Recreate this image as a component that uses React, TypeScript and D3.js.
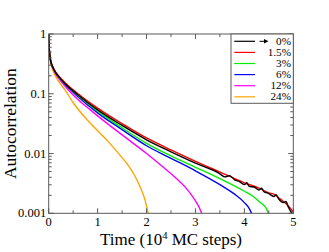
import React from "react";
import * as d3 from "d3";

// time in units of 10^4 MC steps
const blackT = [0, 0.005, 0.01, 0.02, 0.04, 0.08, 0.13, 0.2, 0.33, 0.6, 1.0, 1.5, 2.0, 2.5, 3.0, 3.5, 3.6, 3.7, 3.8, 3.9, 4.0, 4.05, 4.1, 4.2, 4.3, 4.35, 4.4, 4.5, 4.6, 4.65, 4.7, 4.8, 4.85, 4.9, 4.95, 5.0];
const blackV = [1, 0.759, 0.603, 0.457, 0.355, 0.282, 0.234, 0.195, 0.148, 0.0955, 0.0537, 0.0295, 0.017, 0.0107, 0.00692, 0.00457, 0.00407, 0.00427, 0.00363, 0.00339, 0.00302, 0.00324, 0.00282, 0.00275, 0.00245, 0.00263, 0.00229, 0.00214, 0.00191, 0.00204, 0.00174, 0.00151, 0.00158, 0.00126, 0.00107, 0.00095];

const redT = [0, 0.005, 0.01, 0.02, 0.04, 0.08, 0.13, 0.2, 0.33, 0.6, 1.0, 1.5, 2.0, 2.5, 3.0, 3.5, 4.0, 4.3, 4.5, 4.6, 4.7, 4.8, 4.9, 5.0];
const redV = [1, 0.759, 0.603, 0.468, 0.363, 0.288, 0.24, 0.2, 0.155, 0.1, 0.0575, 0.0316, 0.0182, 0.0115, 0.00741, 0.0049, 0.00324, 0.00263, 0.00219, 0.00209, 0.00182, 0.00158, 0.00132, 0.00105];

const greenT = [0, 0.005, 0.01, 0.02, 0.04, 0.08, 0.13, 0.2, 0.33, 0.6, 1.0, 1.5, 2.0, 2.5, 3.0, 3.5, 4.0, 4.2, 4.3, 4.4, 4.45, 4.5];
const greenV = [1, 0.759, 0.603, 0.457, 0.355, 0.282, 0.234, 0.195, 0.148, 0.0933, 0.0513, 0.0269, 0.0148, 0.00912, 0.00589, 0.0038, 0.00234, 0.00186, 0.00158, 0.00135, 0.0012, 0.00095];

const blueT = [0, 0.005, 0.01, 0.02, 0.04, 0.08, 0.13, 0.2, 0.33, 0.6, 1.0, 1.5, 2.0, 2.5, 3.0, 3.5, 3.8, 4.0, 4.1, 4.16];
const blueV = [1, 0.759, 0.603, 0.457, 0.355, 0.282, 0.234, 0.195, 0.145, 0.0891, 0.0479, 0.0251, 0.0135, 0.00832, 0.00513, 0.00302, 0.00209, 0.00151, 0.0012, 0.00095];

const magentaT = [0, 0.005, 0.01, 0.02, 0.04, 0.08, 0.13, 0.2, 0.33, 0.5, 0.85, 1.2, 1.65, 2.0, 2.3, 2.6, 2.8, 2.95, 3.05, 3.14];
const magentaV = [1, 0.759, 0.603, 0.457, 0.355, 0.275, 0.224, 0.182, 0.135, 0.0955, 0.0537, 0.0316, 0.0166, 0.01, 0.00631, 0.00389, 0.00269, 0.00186, 0.00138, 0.00095];

const orangeT = [0, 0.005, 0.01, 0.02, 0.04, 0.08, 0.13, 0.2, 0.33, 0.5, 0.78, 1.05, 1.25, 1.46, 1.6, 1.75, 1.87, 1.97, 2.0, 2.04];
const orangeV = [1, 0.741, 0.589, 0.437, 0.331, 0.251, 0.204, 0.162, 0.117, 0.0708, 0.0372, 0.0219, 0.0148, 0.00933, 0.00676, 0.00437, 0.00275, 0.00166, 0.00132, 0.00095];

const seriesLabels = ["0%", "1.5%", "3%", "6%", "12%", "24%"];
const seriesColors = ["#000000", "#ff0000", "#00ee00", "#0000ff", "#ff00ff", "#ffa500"];
const seriesT = [blackT, redT, greenT, blueT, magentaT, orangeT];
const seriesV = [blackV, redV, greenV, blueV, magentaV, orangeV];

const xTicks = [0, 1, 2, 3, 4, 5];
const xMinor = [0.5, 1.5, 2.5, 3.5, 4.5];
const yTicks = [0.001, 0.01, 0.1, 1];
const yTickLabels = ["0.001", "0.01", "0.1", "1"];

const W = 329;
const H = 252;
const left = 48.7, right = 293.3, top = 34, bottom = 213.3;
const axisColor = "#5a5a5a";
const font = "'Liberation Serif', 'Times New Roman', Times, serif";

export default function App() {
  const x = d3.scaleLinear().domain([0, 5]).range([left, right]);
  const y = d3.scaleLog().domain([0.001, 1]).range([bottom, top]);

  const line = d3
    .line<[number, number]>()
    .x((d) => x(d[0]))
    .y((d) => y(d[1]))
    .curve(d3.curveMonotoneX);

  // minor log ticks 2..9 in each decade
  const yMinor: number[] = [];
  for (let e = -3; e < 0; e++) {
    for (let m = 2; m <= 9; m++) yMinor.push(m * Math.pow(10, e));
  }

  const legendLeft = 231;
  const rowY = (i: number) => 41.3 + i * 11.1;

  return (
    <svg
      width={W}
      height={H}
      style={{ position: "absolute", left: 0, top: 0, background: "#fff", fontFamily: font }}
    >
      <defs>
        <clipPath id="plotclip">
          <rect x={left} y={top - 1} width={right - left} height={bottom - top + 1} />
        </clipPath>
      </defs>

      {/* curves, last series first so black ends up on top */}
      <g clipPath="url(#plotclip)" fill="none">
        {seriesT
          .map((ts, i) => ({ i, pts: ts.map((t, k) => [t, seriesV[i][k]] as [number, number]) }))
          .reverse()
          .map(({ i, pts }) => (
            <path key={i} d={line(pts) || ""} stroke={seriesColors[i]} strokeWidth={1.4} />
          ))}
      </g>

      {/* frame */}
      <rect x={left} y={top} width={right - left} height={bottom - top} fill="none" stroke={axisColor} strokeWidth={1} />

      {/* ticks on all four sides, pointing inward */}
      <g stroke={axisColor} strokeWidth={1}>
        {xTicks.map((t) => (
          <g key={"xt" + t}>
            <line x1={x(t)} x2={x(t)} y1={bottom} y2={bottom - 5} />
            <line x1={x(t)} x2={x(t)} y1={top} y2={top + 5} />
          </g>
        ))}
        {xMinor.map((t) => (
          <g key={"xm" + t}>
            <line x1={x(t)} x2={x(t)} y1={bottom} y2={bottom - 3} />
            <line x1={x(t)} x2={x(t)} y1={top} y2={top + 3} />
          </g>
        ))}
        {yTicks.map((v) => (
          <g key={"yt" + v}>
            <line x1={left} x2={left + 5} y1={y(v)} y2={y(v)} />
            <line x1={right} x2={right - 5} y1={y(v)} y2={y(v)} />
          </g>
        ))}
        {yMinor.map((v) => (
          <g key={"ym" + v}>
            <line x1={left} x2={left + 3} y1={y(v)} y2={y(v)} />
            <line x1={right} x2={right - 3} y1={y(v)} y2={y(v)} />
          </g>
        ))}
      </g>

      {/* tick labels */}
      <g fontSize={12.5} fill="#000">
        {xTicks.map((t) => (
          <text key={"xl" + t} x={x(t)} y={bottom + 12.5} textAnchor="middle">
            {t}
          </text>
        ))}
        {yTicks.map((v, i) => (
          <text key={"yl" + v} x={left - 2.5} y={y(v) + 4} textAnchor="end">
            {yTickLabels[i]}
          </text>
        ))}
      </g>

      {/* axis titles */}
      <text x={(left + right) / 2} y={245} textAnchor="middle" fontSize={17}>
        Time (10
        <tspan dy={-6} fontSize={10.5}>4</tspan>
        <tspan dy={6}> MC steps)</tspan>
      </text>
      <text
        transform={`translate(16,${(top + bottom) / 2}) rotate(-90)`}
        textAnchor="middle"
        fontSize={17.5}
      >
        Autocorrelation
      </text>

      {/* legend */}
      <rect x={legendLeft} y={top} width={right - legendLeft} height={103.3 - top} fill="#fff" stroke={axisColor} strokeWidth={1} />
      {seriesLabels.map((lab, i) => (
        <g key={"lg" + i}>
          <line x1={234.3} x2={255} y1={rowY(i)} y2={rowY(i)} stroke={seriesColors[i]} strokeWidth={1.2} />
          <text x={291} y={rowY(i) + 3.6} textAnchor="end" fontSize={11.2}>
            {lab}
          </text>
        </g>
      ))}
      {/* arrow in front of 0% */}
      <line x1={259.5} x2={265} y1={rowY(0)} y2={rowY(0)} stroke="#000" strokeWidth={1} />
      <path d={`M${264},${rowY(0) - 2.3} L${268.5},${rowY(0)} L${264},${rowY(0) + 2.3} Z`} fill="#000" />
    </svg>
  );
}
